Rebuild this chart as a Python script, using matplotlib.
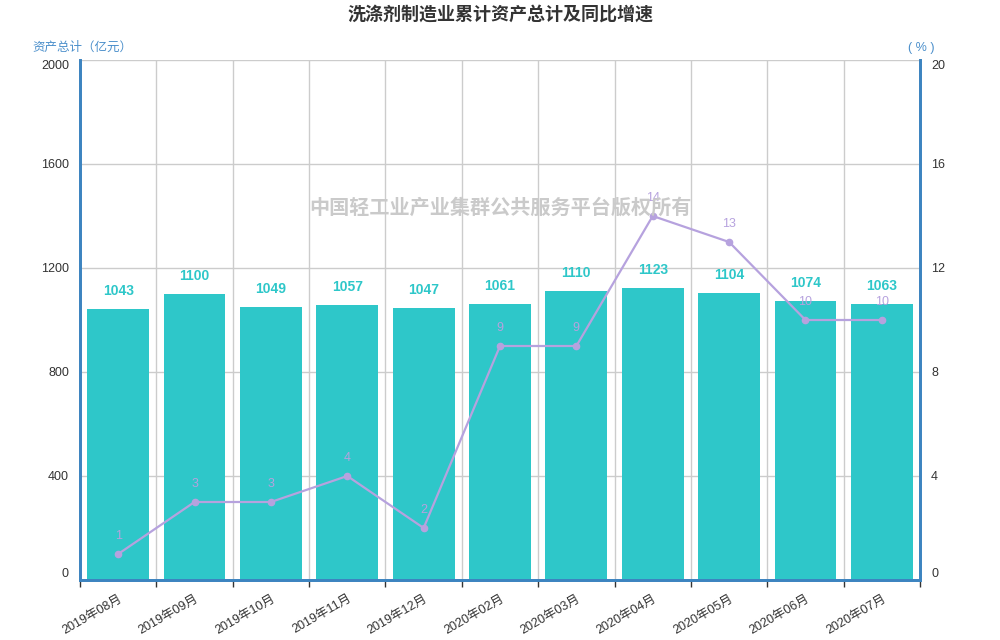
import matplotlib
matplotlib.use("Agg")
import matplotlib.pyplot as plt
import numpy as np

plt.rcParams['font.family'] = ['Liberation Sans', 'Noto Sans CJK SC', 'DejaVu Sans']

categories = ["2019年08月", "2019年09月", "2019年10月", "2019年11月", "2019年12月",
              "2020年02月", "2020年03月", "2020年04月", "2020年05月", "2020年06月", "2020年07月"]
assets = [1043, 1100, 1049, 1057, 1047, 1061, 1110, 1123, 1104, 1074, 1063]
growth = [1, 3, 3, 4, 2, 9, 9, 14, 13, 10, 10]
left_ticks = [0, 400, 800, 1200, 1600, 2000]
right_ticks = [0, 4, 8, 12, 16, 20]

title = "洗涤剂制造业累计资产总计及同比增速"
left_name = "资产总计（亿元）"
right_name = "( % )"
watermark = "中国轻工业产业集群公共服务平台版权所有"

bar_color = "#2ec7c9"
line_color = "#b6a2de"
axis_color = "#3d84c0"
grid_color = "#cccccc"
text_color = "#333333"

fig = plt.figure(figsize=(10, 6.4), dpi=100)
ax = fig.add_axes([0.08, 0.09375, 0.84, 0.8125])
x = np.arange(len(categories))

ax.set_xlim(-0.5, len(categories) - 0.5)
ax.set_ylim(0, 2000)
ax.bar(x, assets, width=0.81, color=bar_color, zorder=2)
for xi, v in zip(x, assets):
    ax.annotate(str(v), (xi, v), xytext=(0, 13), textcoords='offset points',
                ha='center', va='center', color=bar_color, fontsize=10, fontweight='bold', zorder=5)

ax.set_yticks(left_ticks)
ax.set_yticklabels([str(t) for t in left_ticks])
ax.set_xticks(x)
ax.set_xticklabels(categories, rotation=30, ha='right', rotation_mode='anchor')
ax.set_xticks(np.arange(-0.5, len(categories), 1.0), minor=True)
ax.tick_params(axis='x', which='major', length=0, pad=9, labelsize=9, labelcolor=text_color)
ax.tick_params(axis='x', which='minor', length=5, width=1, color=text_color, direction='out')
ax.tick_params(axis='y', length=0, pad=8, labelsize=9, labelcolor=text_color)
ax.grid(True, axis='y', color=grid_color, linewidth=1, zorder=0)
ax.grid(True, axis='x', which='minor', color=grid_color, linewidth=1, zorder=0)
ax.grid(False, axis='x', which='major')
ax.set_axisbelow(True)
ax.spines['top'].set_visible(False)
for s in ['left', 'bottom', 'right']:
    ax.spines[s].set_color(axis_color)
    ax.spines[s].set_linewidth(2)
ylabels = ax.get_yticklabels()
ylabels[0].set_va('bottom')
ylabels[-1].set_va('top')

ax2 = ax.twinx()
ax2.set_ylim(0, 20)
ax2.set_yticks(right_ticks)
ax2.set_yticklabels([str(t) for t in right_ticks])
ax2.tick_params(axis='y', length=0, pad=8, labelsize=9, labelcolor=text_color)
ax2.spines['top'].set_visible(False)
for s in ['left', 'bottom', 'right']:
    ax2.spines[s].set_color(axis_color)
    ax2.spines[s].set_linewidth(2)
rlabels = ax2.get_yticklabels()
rlabels[0].set_va('bottom')
rlabels[-1].set_va('top')
ax2.plot(x, growth, color=line_color, linewidth=1.6, marker='o', markersize=4.5, zorder=4)
for xi, v in zip(x, growth):
    ax2.annotate(str(v), (xi, v), xytext=(0, 13), textcoords='offset points',
                 ha='center', va='center', color=line_color, fontsize=9, zorder=5)

fig.text(0.5, 1 - 208 / 640, watermark, ha='center', va='center', fontsize=14.5,
         fontweight='bold', color='#cacaca', zorder=10)
fig.text(0.5, 1 - 15 / 640, title, ha='center', va='center', fontsize=13,
         fontweight='bold', color=text_color)
fig.text(0.032, 1 - 48 / 640, left_name, ha='left', va='center', fontsize=9, color='#4b8fcb')
fig.text(0.921, 1 - 48 / 640, right_name, ha='center', va='center', fontsize=9, color='#4b8fcb')

fig.savefig("out.png", dpi=100)
